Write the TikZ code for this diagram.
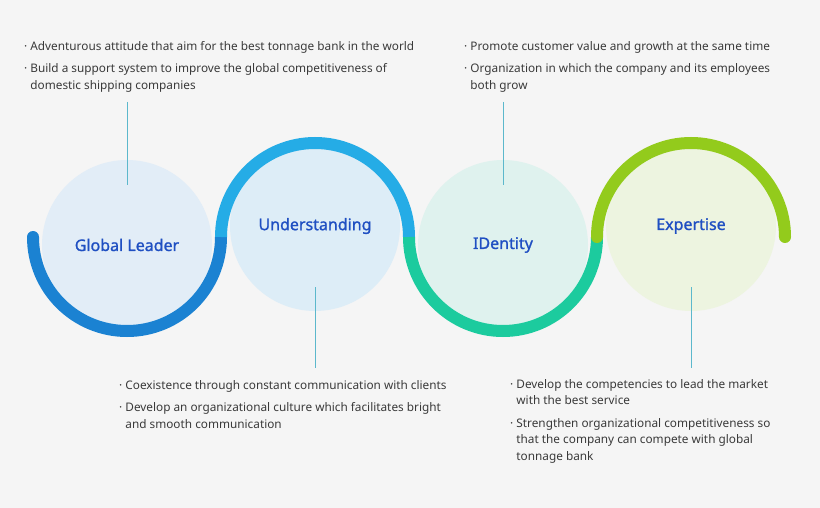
\documentclass[tikz,border=0pt]{standalone}
\usepackage{fontspec}
\setmainfont{Noto Sans}
\newfontfamily\lblfont{Noto Sans}[FakeBold=1.2]
\definecolor{bg}{HTML}{F5F5F5}
\definecolor{txt}{HTML}{3A3A3A}
\definecolor{lbl}{HTML}{1F4FC2}
\definecolor{aone}{HTML}{1B82D2}
\definecolor{atwo}{HTML}{25ACE6}
\definecolor{athree}{HTML}{1CCB9E}
\definecolor{afour}{HTML}{93CB1C}
\definecolor{cone}{HTML}{E2EDF7}
\definecolor{ctwo}{HTML}{DDEDF7}
\definecolor{cthree}{HTML}{DFF2EE}
\definecolor{cfour}{HTML}{EDF4E0}
\definecolor{vline}{HTML}{5CB8CC}
\begin{document}
\begin{tikzpicture}[x=1pt,y=-1pt,
  bul/.style={anchor=north west,inner sep=0pt,font=\fontsize{11.8}{16.5}\selectfont,text=txt,align=left},
  circ/.style={circle,minimum size=170pt,inner sep=0pt,font=\lblfont\fontsize{16}{19}\selectfont,text=lbl},
  arcl/.style={line width=12pt,line cap=round},
  vl/.style={draw=vline,line width=0.7pt}]
\fill[bg] (0,0) rectangle (820,508);
\useasboundingbox (0,0) rectangle (820,508);
\node[circ,fill=cone] (c1) at (127,245) {Global Leader};
\node[circ,fill=ctwo] (c2) at (315,226) {Understanding};
\node[circ,fill=cthree] (c3) at (503,245) {IDentity};
\node[circ,fill=cfour] (c4) at (691,226) {Expertise};
\draw[arcl,draw=aone] (33,237) arc[start angle=180,end angle=0,radius=94];
\draw[arcl,draw=atwo,line cap=butt] (221,237) arc[start angle=180,end angle=360,radius=94];
\draw[arcl,draw=athree,line cap=butt] (409,237) arc[start angle=180,end angle=0,radius=94];
\draw[arcl,draw=afour] (597,237) arc[start angle=180,end angle=360,radius=94];
\node[bul] (t1) at (24,41) {· Adventurous attitude that aim for the best tonnage bank in the world\\[6pt]
· Build a support system to improve the global competitiveness of\\ \hphantom{· }domestic shipping companies};
\node[bul] (t2) at (119,380) {· Coexistence through constant communication with clients\\[6pt]
· Develop an organizational culture which facilitates bright\\ \hphantom{· }and smooth communication};
\node[bul] (t3) at (464,41) {· Promote customer value and growth at the same time\\[6pt]
· Organization in which the company and its employees\\ \hphantom{· }both grow};
\node[bul] (t4) at (510,379) {· Develop the competencies to lead the market\\ \hphantom{· }with the best service\\[6pt]
· Strengthen organizational competitiveness so\\ \hphantom{· }that the company can compete with global\\ \hphantom{· }tonnage bank};
\coordinate (p1a) at (127,102); \coordinate (p1b) at (127,185);
\coordinate (p2a) at (315,287); \coordinate (p2b) at (315,368);
\coordinate (p3a) at (503,102); \coordinate (p3b) at (503,185);
\coordinate (p4a) at (691,287); \coordinate (p4b) at (691,368);
\draw[vl] (p1a) -- (p1b); \draw[vl] (p2a) -- (p2b);
\draw[vl] (p3a) -- (p3b); \draw[vl] (p4a) -- (p4b);
\end{tikzpicture}
\end{document}
